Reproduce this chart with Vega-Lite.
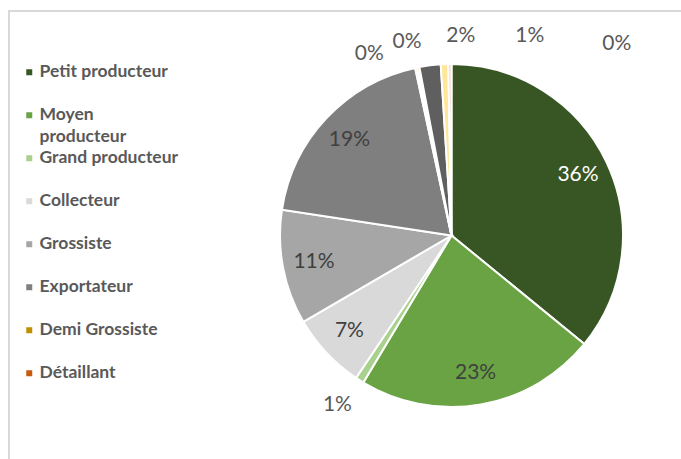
{
  "$schema": "https://vega.github.io/schema/vega-lite/v6.json",
  "width": 885,
  "height": 449,
  "autosize": {"type": "none"},
  "padding": {"left": 9, "top": 11, "right": 0, "bottom": 0},
  "background": "white",
  "view": {"stroke": "#d9d9d9", "strokeWidth": 2, "fill": "white"},
  "config": {
    "view": {"stroke": "#d9d9d9", "strokeWidth": 2},
    "font": "Lato",
    "text": {"font": "Lato"},
    "style": {"guide-label": {"lineHeight": 22}}
  },
  "data": {
    "values": [
      {"i": 1, "cat": "Petit producteur", "v": 35.9, "label": "36%"},
      {"i": 2, "cat": "Moyen producteur", "v": 22.7, "label": "23%"},
      {"i": 3, "cat": "Grand producteur", "v": 0.8, "label": "1%"},
      {"i": 4, "cat": "Collecteur", "v": 7.2, "label": "7%"},
      {"i": 5, "cat": "Grossiste", "v": 10.8, "label": "11%"},
      {"i": 6, "cat": "Exportateur", "v": 19.2, "label": "19%"},
      {"i": 7, "cat": "Demi Grossiste", "v": 0.2, "label": "0%"},
      {"i": 8, "cat": "Détaillant", "v": 0.2, "label": "0%"},
      {"i": 9, "cat": "Transformateur", "v": 2.0, "label": "2%"},
      {"i": 10, "cat": "Consommateur", "v": 0.7, "label": "1%"},
      {"i": 11, "cat": "Autre", "v": 0.3, "label": "0%"}
    ]
  },
  "layer": [
    {
      "mark": {"type": "arc", "outerRadius": 171.5, "stroke": "white", "strokeWidth": 2},
      "encoding": {
        "theta": {"field": "v", "type": "quantitative", "stack": true},
        "order": {"field": "i", "type": "quantitative"},
        "color": {
          "field": "cat",
          "type": "nominal",
          "scale": {
            "domain": ["Petit producteur", "Moyen producteur", "Grand producteur", "Collecteur", "Grossiste", "Exportateur", "Demi Grossiste", "Détaillant", "Transformateur", "Consommateur", "Autre"],
            "range": ["#375623", "#6aa343", "#a9d18e", "#d9d9d9", "#a6a6a6", "#7f7f7f", "#bf9000", "#c55a11", "#5f5f5f", "#ffe699", "#f8cbad"]
          },
          "legend": {
            "orient": "none",
            "legendX": 11.5,
            "legendY": 52.5,
            "title": null,
            "values": ["Petit producteur", "Moyen producteur", "Grand producteur", "Collecteur", "Grossiste", "Exportateur", "Demi Grossiste", "Détaillant"],
            "labelExpr": "datum.label == 'Moyen producteur' ? ['Moyen', 'producteur'] : datum.label",
            "labelFont": "Lato",
            "labelFontWeight": "bold",
            "labelFontSize": 17.5,
            "labelColor": "#595959",
            "labelLimit": 300,
            "labelOffset": 1.5,
            "labelBaseline": "middle",
            "symbolType": "square",
            "symbolSize": 36,
            "symbolStrokeWidth": 0,
            "gridAlign": "all",
            "rowPadding": 2,
            "padding": 0
          }
        }
      }
    },
    {
      "mark": {"type": "text", "radius": 140, "fontSize": 21, "font": "Lato"},
      "encoding": {
        "theta": {"field": "v", "type": "quantitative", "stack": true},
        "order": {"field": "i", "type": "quantitative"},
        "detail": {"field": "cat", "type": "nominal"},
        "text": {"condition": {"test": "datum.v >= 5", "field": "label"}, "value": ""},
        "color": {"condition": {"test": "datum.i == 1", "value": "#ffffff"}, "value": "#404040"}
      }
    },
    {
      "transform": [{"filter": "datum.v < 5"}],
      "mark": {"type": "text", "fontSize": 21, "font": "Lato", "color": "#595959"},
      "encoding": {
        "theta": {"field": "i", "type": "quantitative", "scale": {"type": "linear", "zero": false, "nice": false, "domain": [3, 7, 8, 9, 10, 11], "range": [3.735, 5.857, 6.058, 6.330, 6.658, 6.995]}},
        "radius": {"field": "i", "type": "quantitative", "scale": {"type": "linear", "zero": false, "nice": false, "domain": [3, 7, 8, 9, 10, 11], "range": [204, 199, 199, 200, 214, 253]}},
        "text": {"field": "label"}
      }
    }
  ],
  "resolve": {"scale": {"theta": "independent", "radius": "independent"}}
}
